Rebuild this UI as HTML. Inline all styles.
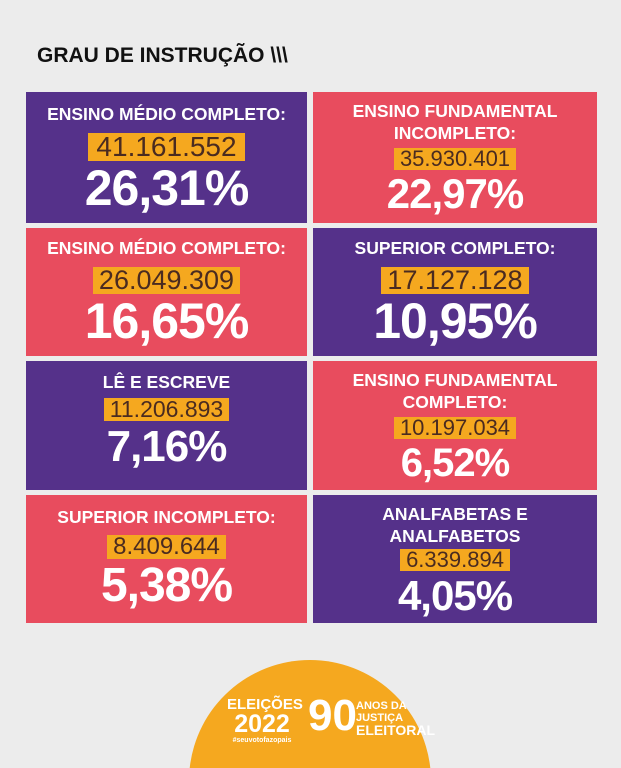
<!DOCTYPE html>
<html style="height:768px;overflow:hidden"><head><meta charset="utf-8"><style>
body{margin:0;width:621px;height:768px;overflow:hidden;background:#ececec;font-family:"Liberation Sans",sans-serif;position:relative}
.t{position:absolute;left:37px;top:44px;font-size:21px;font-weight:bold;color:#111}
.c{position:absolute;color:#fff;text-align:center;box-sizing:border-box}
.p{background:#55318a}.r{background:#e84c5e}
.h{font-weight:bold;font-size:17.5px;line-height:22px}
.n{display:inline-block;background:#f5a81f;color:#4a2b20;padding:0 6px;line-height:1}
.pc{font-weight:900;font-size:50px;line-height:54px;letter-spacing:-1px}
</style></head><body>
<div class="t">GRAU DE INSTRUÇÃO \\\</div>

<div class="c p" style="left:26px;top:92px;width:281px;height:131px;padding-top:11px">
<div class="h">ENSINO MÉDIO COMPLETO:</div>
<div class="n" style="font-size:28px;margin-top:8px;padding:0 8px">41.161.552</div>
<div class="pc">26,31%</div></div>

<div class="c r" style="left:313px;top:92px;width:284px;height:131px;padding-top:8px">
<div class="h">ENSINO FUNDAMENTAL<br>INCOMPLETO:</div>
<div class="n" style="font-size:22px;margin-top:4px">35.930.401</div>
<div class="pc" style="font-size:42px;line-height:46px">22,97%</div></div>

<div class="c r" style="left:26px;top:228px;width:281px;height:128px;padding-top:9px">
<div class="h">ENSINO MÉDIO COMPLETO:</div>
<div class="n" style="font-size:27px;margin-top:8px">26.049.309</div>
<div class="pc">16,65%</div></div>

<div class="c p" style="left:313px;top:228px;width:284px;height:128px;padding-top:9px">
<div class="h">SUPERIOR COMPLETO:</div>
<div class="n" style="font-size:27px;margin-top:8px">17.127.128</div>
<div class="pc">10,95%</div></div>

<div class="c p" style="left:26px;top:361px;width:281px;height:129px;padding-top:10px">
<div class="h">LÊ E ESCREVE</div>
<div class="n" style="font-size:23px;margin-top:5px">11.206.893</div>
<div class="pc" style="font-size:44px;line-height:50px">7,16%</div></div>

<div class="c r" style="left:313px;top:361px;width:284px;height:129px;padding-top:8px">
<div class="h">ENSINO FUNDAMENTAL<br>COMPLETO:</div>
<div class="n" style="font-size:22px;margin-top:4px">10.197.034</div>
<div class="pc" style="font-size:40px;line-height:46px">6,52%</div></div>

<div class="c r" style="left:26px;top:495px;width:281px;height:128px;padding-top:11px">
<div class="h">SUPERIOR INCOMPLETO:</div>
<div class="n" style="font-size:24px;margin-top:7px">8.409.644</div>
<div class="pc" style="font-size:48px">5,38%</div></div>

<div class="c p" style="left:313px;top:495px;width:284px;height:128px;padding-top:8px">
<div class="h">ANALFABETAS E<br>ANALFABETOS</div>
<div class="n" style="font-size:22px;margin-top:2px">6.339.894</div>
<div class="pc" style="font-size:42px;line-height:48px">4,05%</div></div>

<svg style="position:absolute;left:0;top:640px;display:block" width="621" height="128" viewBox="0 0 621 128">
<path d="M189.7,128 A121,121 0 0 1 430.3,128 Z" fill="#f5a81f"/>
</svg>
<div style="position:absolute;left:227px;top:697px;color:#fff;font-weight:900;text-align:center;width:70px">
<div style="font-size:15px;line-height:15px">ELEIÇÕES</div>
<div style="font-size:25px;line-height:24px">2022</div>
<div style="font-size:7px;line-height:9px">#seuvotofazopais</div></div>
<div style="position:absolute;left:308px;top:694px;color:#fff;font-weight:900;font-size:44px;line-height:44px">90</div>
<div style="position:absolute;left:356px;top:700px;color:#fff;font-weight:bold;font-size:11px;line-height:12px">ANOS DA<br>JUSTIÇA<br><span style="font-size:14px">ELEITORAL</span></div>
</body></html>
